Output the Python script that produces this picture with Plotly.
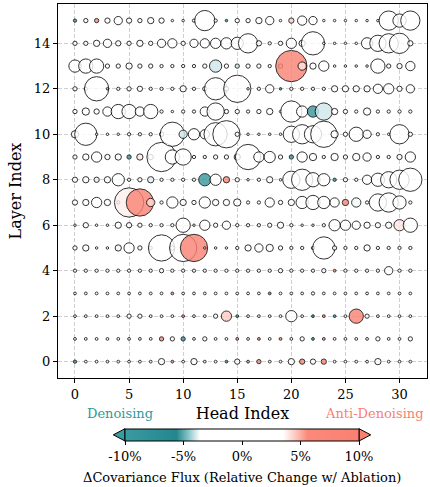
import plotly.graph_objects as go

heads = list(range(32))
layers = list(range(16))

# bubble magnitude per layer (index = head)
mag_L00 = [4,3.5,3.5,3.5,3.5,3.5,3.5,3.5,7,3.5,3.5,7,3.5,3.5,3.5,6,3.5,5,3.5,3.5,7,6,6,6,3.5,3.5,3.5,3.5,7,3.5,3.5,3.5]
mag_L01 = [3.5,3.5,3.5,3.5,3.5,3.5,3.5,3.5,5,5,5,3.5,5,3.5,3.5,3.5,3.5,3.5,3.5,3.5,3.5,5,3.5,3.5,3.5,3.5,3.5,3.5,5,3.5,3.5,5]
mag_L02 = [3.5,3.5,3.5,3.5,3.5,5,5,3.5,3.5,3.5,3.5,3.5,3.5,5,11,3.5,3.5,3.5,3.5,3.5,12,3.5,3.5,3.5,3.5,3.5,15,5,3.5,3.5,3.5,3.5]
mag_L03 = [3.5,3.5,3.5,3.5,3.5,3.5,3.5,3.5,3.5,3.5,3.5,3.5,3.5,3.5,3.5,3.5,3.5,3.5,3.5,3.5,3.5,3.5,4,3.5,3.5,3.5,3.5,3.5,3.5,3.5,3.5,3.5]
mag_L04 = [4,4,4,4,4,4,4,4,5,4,4,4,4,4,4,4,4,4,4,5,4,4,4,5,3.5,4,4,4,4,9,4,4]
mag_L05 = [5,7,3,3,7,11,5,4,27,5,28,28,3,3,3,4,7,9,8,5,4,4,4,23,5,4,4,7,4,4,4,4]
mag_L06 = [3,6,3,3,7,6,5,4,4,4,15,3,11,5,9,4,4,4,5,7,4,3,3,4,12,11,9,7,6,7,12,15]
mag_L07 = [6,7,11,7,4,30,28,9,4,12,7,5,12,7,7,8,4,4,10,5,7,13,15,13,10,7,10,4,18,20,14,4]
mag_L08 = [6,7,6,7,13,4,5,7,4,4,4,4,13,12,7,5,3,4,7,3,18,22,15,13,4,5,4,10,14,17,20,24]
mag_L09 = [5,7,11,6,7,5,7,6,30,15,17,4,4,5,5,7,26,11,12,5,5,11,8,4,8,5,8,9,4,4,6,11]
mag_L10 = [8,23,3,3,3,4,4,4,5,25,9,12,10,24,28,5,3,3,3,3,17,20,18,27,8,5,15,9,4,3,20,5]
mag_L11 = [5,8,6,10,15,15,10,15,4,3,4,4,10,18,5,5,4,5,7,3,22,12,12,18,7,5,4,8,4,4,4,4]
mag_L12 = [5,4,25,3,4,5,6,4,4,4,7,4,5,23,5,28,3,4,9,3,4,4,4,4,7,7,7,7,10,11,6,9]
mag_L13 = [13,15,15,5,5,7,5,5,4,4,4,4,5,13,5,5,5,5,4,5,32,9,7,11,3,3,3,3,15,5,6,10]
mag_L14 = [5,5,7,9,6,5,7,5,9,10,5,9,10,11,12,13,20,6,4,5,11,7,24,3,3,3,3,12,17,20,21,6]
mag_L15 = [4,5,5,6,9,6,5,7,6,3,3,4,21,4,3,5,5,7,9,3,6,10,9,3,3,3,3,3,3,20,14,20]

# relative change (%) per layer, {head: value}; unlisted heads ~0
chg_L00 = {0: -8, 3: 4, 9: 6, 12: 4, 14: -8, 16: 6, 17: 8, 21: 8, 23: 8}
chg_L01 = {8: 8, 10: -8, 15: 6, 17: 6, 19: 6, 22: -8, 23: 6}
chg_L02 = {10: 7, 14: 4.5, 15: -8, 22: -8, 23: 7, 24: -8, 26: 9}
chg_L03 = {9: 7, 18: -8}
chg_L04 = {24: 6}
chg_L05 = {4: -3.7, 11: 9}
chg_L06 = {11: 4, 30: 4}
chg_L07 = {5: 3.8, 6: 9, 7: 4.2, 25: 7, 26: -3.7}
chg_L08 = {2: -3.8, 7: -3.8, 12: -9, 14: 8, 24: -9}
chg_L09 = {5: -9, 6: 3.9, 7: -3.7, 12: -3.7, 15: -3.7, 20: -9}
chg_L10 = {10: -4}
chg_L11 = {22: -9, 23: -4}
chg_L12 = {3: 7, 16: 4, 19: -7}
chg_L13 = {13: -4, 15: -4, 19: 3.8, 20: 9, 21: 4}
chg_L14 = {}
chg_L15 = {0: -8, 2: 7, 14: -8, 20: 4.5}

tick_x = [0, 5, 10, 15, 20, 25, 30]
tick_y = [0, 2, 4, 6, 8, 10, 12, 14]
cbar_vals = [-10, -5, 0, 5, 10]
cbar_text = ["-10%", "-5%", "0%", "5%", "10%"]

mag_rows = [mag_L00, mag_L01, mag_L02, mag_L03, mag_L04, mag_L05, mag_L06, mag_L07,
            mag_L08, mag_L09, mag_L10, mag_L11, mag_L12, mag_L13, mag_L14, mag_L15]
chg_rows = [chg_L00, chg_L01, chg_L02, chg_L03, chg_L04, chg_L05, chg_L06, chg_L07,
            chg_L08, chg_L09, chg_L10, chg_L11, chg_L12, chg_L13, chg_L14, chg_L15]

xs, ys, ss, cs = [], [], [], []
for L in layers:
    for h in heads:
        xs.append(h)
        ys.append(L)
        ss.append(max(mag_rows[L][h] - 0.7, 2.5))
        cs.append(chg_rows[L].get(h, 0.0))

TEAL = "#3a9ba1"
SALMON = "#fa8072"
colorscale = [
    [0.0, TEAL], [0.22, "#23878d"], [0.27, "#86c4c7"], [0.32, "#ffffff"],
    [0.675, "#ffffff"], [0.73, "#fdc6bd"], [0.78, "#fa8a7a"], [1.0, SALMON],
]

FONT = "DejaVu Serif"
W, H = 430, 487
ML, MR, MT, MB = 58, 3, 4, 109
pw, ph = W - ML - MR, H - MT - MB

def px_x(px):
    return (px - ML) / pw

def px_y(py):
    return (H - MB - py) / ph

cb_left, cb_right, cb_top, cb_bot = 125, 359, 428.7, 441.0
cb_len = (cb_right - cb_left) / pw
cb_xc = px_x((cb_left + cb_right) / 2)

fig = go.Figure()
fig.add_trace(go.Scatter(
    x=xs, y=ys, mode="markers",
    marker=dict(
        size=ss, sizemode="diameter", sizeref=1,
        color=cs, cmin=-10, cmax=10, colorscale=colorscale,
        opacity=0.8,
        line=dict(color="black", width=1),
        showscale=True,
        colorbar=dict(
            orientation="h", x=cb_xc, xanchor="center", lenmode="fraction", len=cb_len,
            y=px_y(cb_top), yanchor="top", ypad=0, xpad=0,
            thickness=cb_bot - cb_top, thicknessmode="pixels",
            outlinewidth=1, outlinecolor="black",
            tickvals=cbar_vals, ticktext=cbar_text, ticks="outside", ticklen=4,
            tickcolor="black", tickfont=dict(family=FONT, size=13, color="black"),
        ),
    ),
    hoverinfo="skip",
))

# extend triangles on colorbar
ymid = (cb_top + cb_bot) / 2
tri_l = "M {a},{b} L {c},{d} L {c},{e} Z".format(
    a=px_x(cb_left - 11.7), b=px_y(ymid), c=px_x(cb_left), d=px_y(cb_top), e=px_y(cb_bot))
tri_r = "M {a},{b} L {c},{d} L {c},{e} Z".format(
    a=px_x(cb_right + 11.7), b=px_y(ymid), c=px_x(cb_right), d=px_y(cb_top), e=px_y(cb_bot))
shapes = [
    dict(type="path", xref="paper", yref="paper", path=tri_l, fillcolor=TEAL,
         line=dict(color="black", width=1), layer="above"),
    dict(type="path", xref="paper", yref="paper", path=tri_r, fillcolor=SALMON,
         line=dict(color="black", width=1), layer="above"),
]

axis_common = dict(
    ticks="outside", ticklen=4, tickwidth=1, tickcolor="black",
    showline=True, linecolor="black", linewidth=1, mirror=True,
    showgrid=True, gridcolor="#cfcfcf", gridwidth=1, griddash="4px,2px",
    zeroline=False, tickfont=dict(family=FONT, size=13, color="black"),
)

fig.update_layout(
    width=W, height=H,
    margin=dict(l=ML, r=MR, t=MT, b=MB),
    plot_bgcolor="white", paper_bgcolor="white",
    font=dict(family=FONT, size=13, color="black"),
    showlegend=False,
    xaxis=dict(range=[-1.57, 32.54], tickvals=tick_x,
               title=dict(text="Head Index", font=dict(family=FONT, size=16), standoff=7),
               **axis_common),
    yaxis=dict(range=[-0.72, 15.73], tickvals=tick_y,
               title=dict(text="Layer Index", font=dict(family=FONT, size=16), standoff=8),
               **axis_common),
    shapes=shapes,
    annotations=[
        dict(text="Denoising", xref="paper", yref="paper", x=px_x(120), y=px_y(413),
             xanchor="center", yanchor="middle", showarrow=False,
             font=dict(family=FONT, size=13, color="#2e9a9e")),
        dict(text="Anti-Denoising", xref="paper", yref="paper", x=px_x(374), y=px_y(413),
             xanchor="center", yanchor="middle", showarrow=False,
             font=dict(family=FONT, size=13, color=SALMON)),
        dict(text="\u0394Covariance Flux (Relative Change w/ Ablation)", xref="paper", yref="paper",
             x=cb_xc, y=px_y(477), xanchor="center", yanchor="middle", showarrow=False,
             font=dict(family=FONT, size=13, color="black")),
    ],
)

fig.write_html("out.html")
